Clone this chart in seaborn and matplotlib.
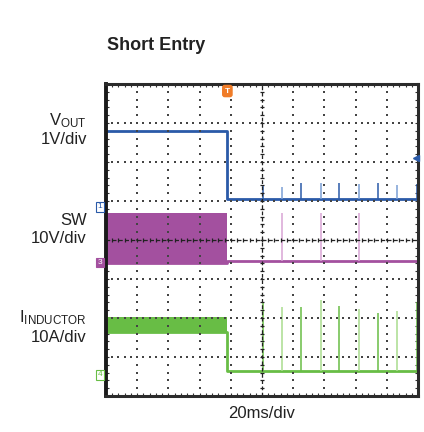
import numpy as np
import pandas as pd
import matplotlib
matplotlib.use("Agg")
import matplotlib.pyplot as plt
import seaborn as sns

# ---------------- data (read from the scope shot) ----------------
time_per_div_ms = 20
t_fall_ms = -22.2
spike_times_ms = [0.4, 12.8, 25.2, 37.6, 49.6, 62.0, 74.4, 86.8, 99.2]

# channel 1: VOUT (1 V/div)
vout_scale = 1.0
vout_offset_div = 4.85
vout_high = 1.95
vout_low = 0.19
vout_spikes = [0.53, 0.52, 0.60, 0.62, 0.62, 0.59, 0.62, 0.56, 0.59]

# channel 3: SW (10 V/div)
sw_scale = 10.0
sw_offset_div = 3.42
sw_band = [0.0, 12.7]
sw_low = 0.5
sw_spike_times_ms = [12.8, 37.6, 62.0]
sw_spikes = [12.6, 12.6, 12.6]

# channel 4: I_INDUCTOR (10 A/div)
il_scale = 10.0
il_offset_div = 0.54
il_band = [10.9, 14.9]
il_low = 0.9
il_spikes = [18.4, 17.5, 17.5, 19.2, 17.8, 16.8, 16.0, 16.5, 18.8]

title = "Short Entry"
x_label = "20ms/div"
ch_labels = [("V$_{\\mathrm{OUT}}$", "1V/div"), ("SW", "10V/div"),
             ("I$_{\\mathrm{INDUCTOR}}$", "10A/div")]

# ---------------- styling ----------------
sns.set_theme(style="white")
plt.rcParams["font.family"] = ["Liberation Sans", "DejaVu Sans"]
plt.rcParams["mathtext.fontset"] = "custom"
plt.rcParams["mathtext.rm"] = "Liberation Sans"
plt.rcParams["mathtext.it"] = "Liberation Sans"

BLUE = "#2a5aa8"
BLUE_L = "#7a9fd4"
PURP = "#a3509f"
PURP_L = "#d9a4d5"
GREEN = "#68bd45"
GREEN_L = "#a9dc8e"
ORANGE = "#f07c28"

W, H = 424, 432
fig = plt.figure(figsize=(W / 100, H / 100), dpi=100)
L, R, T, B = 106, 418, 84, 396
ax = fig.add_axes([L / W, 1 - B / H, (R - L) / W, (B - T) / H])

t0, t1 = -5 * time_per_div_ms, 5 * time_per_div_ms


def to_div(v, scale, off):
    return off + np.asarray(v, dtype=float) / scale


# main traces (step shapes) through seaborn
rows = []
for name, hi, lo, sc, off in [
    ("VOUT", vout_high, vout_low, vout_scale, vout_offset_div),
    ("SW", sw_band[0], sw_low, sw_scale, sw_offset_div),
    ("IL", il_band[0], il_low, il_scale, il_offset_div),
]:
    ts = [t0, t_fall_ms, t_fall_ms, t1]
    vs = [hi, hi, lo, lo]
    for i, (t, v) in enumerate(zip(ts, vs)):
        rows.append(dict(ch=name, order=i, time=t, div=float(to_div(v, sc, off))))
df = pd.DataFrame(rows)
sns.lineplot(data=df, x="time", y="div", hue="ch",
             palette={"VOUT": BLUE, "SW": PURP, "IL": GREEN},
             estimator=None, sort=False, legend=False, linewidth=2.0, ax=ax,
             zorder=2)

# bands of switching activity before the fault
ax.fill_between([t0, t_fall_ms], to_div(sw_band[0], sw_scale, sw_offset_div),
                to_div(sw_band[1], sw_scale, sw_offset_div), color=PURP, lw=0,
                zorder=2)
ax.fill_between([t0, t_fall_ms], to_div(il_band[0], il_scale, il_offset_div),
                to_div(il_band[1], il_scale, il_offset_div), color=GREEN, lw=0,
                zorder=2)

# hiccup spikes
for i, (t, v) in enumerate(zip(spike_times_ms, vout_spikes)):
    c = BLUE if i % 2 == 0 else BLUE_L
    ax.vlines(t, to_div(vout_low, vout_scale, vout_offset_div),
              to_div(v, vout_scale, vout_offset_div), color=c, lw=1.1, zorder=2)
for t, v in zip(sw_spike_times_ms, sw_spikes):
    ax.vlines(t, to_div(sw_low, sw_scale, sw_offset_div),
              to_div(v, sw_scale, sw_offset_div), color=PURP_L, lw=1.1, zorder=2)
for i, (t, v) in enumerate(zip(spike_times_ms, il_spikes)):
    c = GREEN if i % 2 == 0 else GREEN_L
    ax.vlines(t, to_div(il_low, il_scale, il_offset_div),
              to_div(v, il_scale, il_offset_div), color=c, lw=1.1, zorder=2)

# ---------------- graticule (drawn over the traces, like the scope) ----------------
ax.set_xlim(t0, t1)
ax.set_ylim(0, 8)
dot_y = np.arange(0, 8.001, 0.2)
dot_x = np.arange(t0, t1 + 0.001, time_per_div_ms / 5)
for gx in np.arange(t0 + time_per_div_ms, t1, time_per_div_ms):
    if abs(gx) < 1e-9:
        continue
    ax.scatter(np.full_like(dot_y, gx), dot_y, s=1.2, marker="s", color="#444444",
               linewidths=0, zorder=4)
for gy in range(1, 8):
    if gy == 4:
        continue
    ax.scatter(dot_x, np.full_like(dot_x, gy), s=1.2, marker="s", color="#444444",
               linewidths=0, zorder=4)
# centre cross with tick marks
ax.plot([0, 0], [0, 8], color="#222222", lw=0.9, ls=(0, (3, 2)), zorder=4)
ax.plot([t0, t1], [4, 4], color="#222222", lw=0.9, ls=(0, (3, 2)), zorder=4)
ax.plot(np.zeros_like(dot_y), dot_y, ls="none", marker="_", ms=3.5, mew=0.9,
        color="#222222", zorder=4)
ax.plot(dot_x, np.full_like(dot_x, 4.0), ls="none", marker="|", ms=3.5, mew=0.9,
        color="#222222", zorder=4)

ax.set_xticks(dot_x, minor=True)
ax.set_yticks(dot_y, minor=True)
ax.set_xticks([])
ax.set_yticks([])
ax.tick_params(which="minor", direction="in", length=2.5, width=0.8,
               color="#333333", top=True, bottom=True, left=True, right=True)
ax.set_xlabel("")
ax.set_ylabel("")
for s in ax.spines.values():
    s.set_visible(True)
    s.set_linewidth(2.2)
    s.set_color("#2b2b2b")
    s.set_zorder(6)
ax.spines["left"].set_linewidth(2.8)
ax.spines["left"].set_color("#1a1a1a")

# trigger marker
ax.text(t_fall_ms, 7.82, "T", ha="center", va="center", fontsize=6,
        color="white", fontweight="bold",
        bbox=dict(boxstyle="round,pad=0.25", fc=ORANGE, ec=ORANGE), zorder=7)
# trigger level arrow at right
ax.plot([t1 - 1.5], [to_div(1.25, vout_scale, vout_offset_div)], marker="<",
        ms=4, color=BLUE, clip_on=False, zorder=7)

# channel ground markers
for lab, off, col, filled in [("1", vout_offset_div, BLUE, False),
                              ("3", sw_offset_div, PURP, True),
                              ("4", il_offset_div, GREEN, False)]:
    ax.text(-0.012, off, lab, transform=ax.get_yaxis_transform(), ha="right",
            va="center", fontsize=6, color="white" if filled else col,
            bbox=dict(boxstyle="square,pad=0.15", fc=col if filled else "white",
                      ec=col, lw=0.8), clip_on=False, zorder=7)

# ---------------- text ----------------
fig.text(107 / W, 1 - 46 / H, title, ha="left", va="center", fontsize=13,
         fontweight="bold", color="#222222")
label_y = [(121, 140), (220, 239), (318, 337)]
for (l1, l2), (y1, y2) in zip(ch_labels, label_y):
    fig.text(87 / W, 1 - y1 / H, l1, ha="right", va="center", fontsize=12,
             color="#222222")
    fig.text(87 / W, 1 - y2 / H, l2, ha="right", va="center", fontsize=12,
             color="#222222")
fig.text(262 / W, 1 - 414 / H, x_label, ha="center", va="center", fontsize=12,
         color="#222222")

fig.savefig("out.png", dpi=100)
